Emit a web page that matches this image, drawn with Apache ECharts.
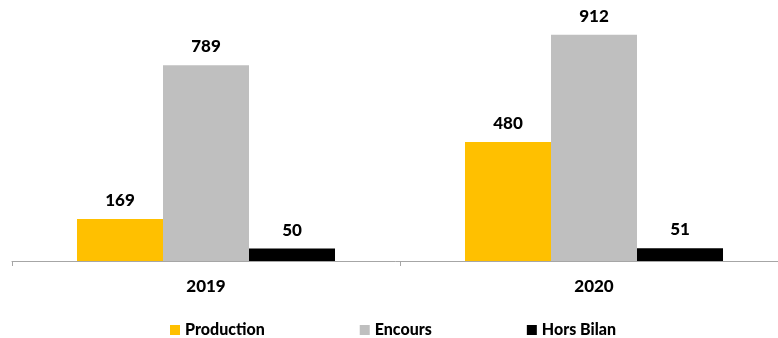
<!DOCTYPE html>
<html>
<head>
<meta charset="utf-8">
<script src="https://cdn.jsdelivr.net/npm/echarts@6/dist/echarts.min.js"></script>
<style>
  html, body { margin: 0; padding: 0; background: #fff; }
  #chart { width: 778px; height: 338px; }
</style>
</head>
<body>
<div id="chart"></div>
<script>
const categories = ['2019', '2020']
const production = [169, 480]
const encours = [789, 912]
const horsBilan = [50, 51]

const font = 'Lato, "Open Sans", sans-serif'
const chart = echarts.init(document.getElementById('chart'))

const labelStyle = {
  show: true,
  position: 'top',
  distance: 10,
  color: '#000',
  fontFamily: font,
  fontWeight: 900,
  fontSize: 17
}

chart.setOption({
  animation: false,
  backgroundColor: '#fff',
  grid: { left: 12, right: -10, top: 13, bottom: 77, outerBoundsMode: 'none', containLabel: false },
  legend: {
    left: 165,
    top: 317,
    itemWidth: 10,
    itemHeight: 10,
    itemGap: 95,
    icon: 'rect',
    textStyle: { fontFamily: font, fontWeight: 900, fontSize: 16, color: '#000' },
    data: ['Production', 'Encours', 'Hors Bilan']
  },
  xAxis: {
    type: 'category',
    data: categories,
    axisLine: { lineStyle: { color: '#a6a6a6', width: 1 } },
    axisTick: { show: true, length: 5, lineStyle: { color: '#a6a6a6' } },
    axisLabel: { margin: 17, color: '#000', fontFamily: font, fontWeight: 900, fontSize: 17 }
  },
  yAxis: {
    type: 'value',
    min: 0,
    max: 1000,
    show: false,
    splitLine: { show: false }
  },
  series: [
    {
      name: 'Production', type: 'bar', data: production,
      barGap: '0%', barCategoryGap: '33.5%',
      itemStyle: { color: '#ffc000' }, label: labelStyle
    },
    {
      name: 'Encours', type: 'bar', data: encours,
      itemStyle: { color: '#bfbfbf' }, label: labelStyle
    },
    {
      name: 'Hors Bilan', type: 'bar', data: horsBilan,
      itemStyle: { color: '#000000' }, label: labelStyle
    }
  ]
})
</script>
</body>
</html>
